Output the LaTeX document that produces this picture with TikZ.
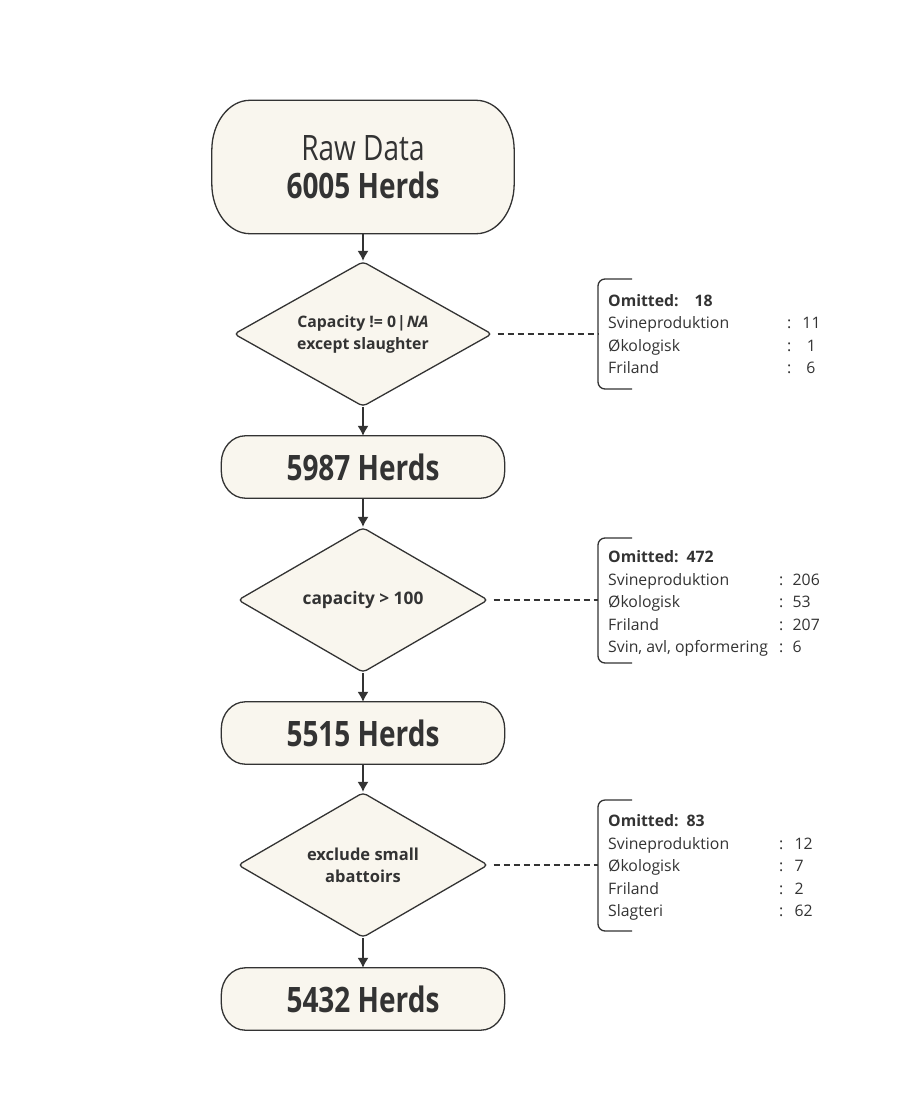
\documentclass[tikz,border=0pt]{standalone}
\usepackage{graphicx}
\usepackage{fontspec}
\setmainfont{Open Sans}
\usetikzlibrary{shapes.geometric,arrows.meta,backgrounds}
\definecolor{ink}{HTML}{333333}
\definecolor{cream}{HTML}{F9F6EE}
\newcommand{\sqz}[1]{\scalebox{0.8}[1]{#1}}
% stadium outline drawn behind a named node: #1 node, #2 x radius, #3 y radius
\newcommand{\stadium}[3]{%
  \draw[draw=ink, fill=cream, line width=1.3pt]
    ([xshift=#2]#1.north west) -- ([xshift=-#2]#1.north east)
    arc[start angle=90, end angle=0, x radius=#2, y radius=#3]
    -- ([yshift=#3]#1.south east)
    arc[start angle=0, end angle=-90, x radius=#2, y radius=#3]
    -- ([xshift=#2]#1.south west)
    arc[start angle=270, end angle=180, x radius=#2, y radius=#3]
    -- ([yshift=-#3]#1.north west)
    arc[start angle=180, end angle=90, x radius=#2, y radius=#3]
    -- cycle;}
\tikzset{
  termbox/.style={inner sep=0pt, text=ink, font=\fontsize{35}{38}\selectfont, align=center},
  herdbox/.style={termbox, minimum width=283pt, minimum height=62pt},
  decbox/.style={diamond, draw=ink, fill=cream, line width=1.3pt, rounded corners=4pt,
    inner sep=0pt, text=ink, align=center},
  flow/.style={draw=ink, line width=1.3pt, -{Latex[length=10pt,width=11pt]}},
  linkline/.style={draw=ink, line width=1.1pt, dash pattern=on 6pt off 4pt, shorten <=5pt},
  bracketline/.style={draw=ink, line width=1.3pt, rounded corners=7pt},
  note/.style={anchor=base west, inner sep=0pt, text=ink, font=\fontsize{15.8}{22.5}\selectfont},
  num/.style={note},
  numc/.style={anchor=base, inner sep=0pt, text=ink, font=\fontsize{15.8}{22.5}\selectfont}
}
\begin{document}
\begin{tikzpicture}[x=1pt,y=-1pt]
\useasboundingbox (0,0) rectangle (912,1095);

% main column
\node[termbox, minimum width=302pt, minimum height=133pt] (t0) at (363,167)
  {\sqz{Raw Data}\\\sqz{\bfseries 6005 Herds}};
\node[decbox, aspect=1.78, minimum width=258pt, minimum height=145pt,
  font=\fontsize{15.8}{22}\selectfont\bfseries] (d1) at (363,334)
  {Capacity != 0\kern1pt|\kern1pt\textit{NA}\\except slaughter};
\node[herdbox] (h1) at (363,467) {\sqz{\bfseries 5987 Herds}};
\node[decbox, aspect=1.72, minimum width=250pt, minimum height=145pt,
  font=\fontsize{17.3}{22}\selectfont\bfseries] (d2) at (363,600) {capacity > 100};
\node[herdbox] (h2) at (363,733) {\sqz{\bfseries 5515 Herds}};
\node[decbox, aspect=1.72, minimum width=250pt, minimum height=145pt,
  font=\fontsize{16.5}{22}\selectfont\bfseries] (d3) at (363,865) {exclude small\\abattoirs};
\node[herdbox] (h3) at (363,999) {\sqz{\bfseries 5432 Herds}};

\begin{pgfonlayer}{background}
  \fill[white] (0,0) rectangle (912,1095);
  \stadium{t0}{38pt}{50pt}
  \stadium{h1}{24pt}{27pt}
  \stadium{h2}{24pt}{27pt}
  \stadium{h3}{24pt}{27pt}
\end{pgfonlayer}

\draw[flow] (t0.south) -- (d1.north);
\draw[flow] (d1.south) -- (h1.north);
\draw[flow] (h1.south) -- (d2.north);
\draw[flow] (d2.south) -- (h2.north);
\draw[flow] (h2.south) -- (d3.north);
\draw[flow] (d3.south) -- (h3.north);

% brackets
\coordinate (b1) at (598,334);
\coordinate (b2) at (598,600);
\coordinate (b3) at (598,865);
\draw[bracketline] (632,279) -| (598,389) -- (632,389);
\draw[bracketline] (632,538) -| (598,663) -- (632,663);
\draw[bracketline] (632,800) -| (598,931) -- (632,931);

\draw[linkline] (d1.east) -- (b1);
\draw[linkline] (d2.east) -- (b2);
\draw[linkline] (d3.east) -- (b3);

% notes 1
\node[note] (n1h) at (608,306) {\textbf{Omitted:\hspace{16pt}18}};
\node[note] (n1a) at (608,328.5) {Svineproduktion};
\node[note] (n1b) at (608,351) {Økologisk};
\node[note] (n1c) at (608,373.5) {Friland};
\node[note] (c1a) at (787,328.5) {:};
\node[note] (c1b) at (787,351) {:};
\node[note] (c1c) at (787,373.5) {:};
\node[numc] (v1a) at (811.5,328.5) {11};
\node[numc] (v1b) at (811.5,351) {1};
\node[numc] (v1c) at (811,373.5) {6};

% notes 2
\node[note] (n2h) at (608,562.5) {\textbf{Omitted:\hspace{8pt}472}};
\node[note] (n2a) at (608,585) {Svineproduktion};
\node[note] (n2b) at (608,607.5) {Økologisk};
\node[note] (n2c) at (608,630) {Friland};
\node[note] (n2d) at (608,652.5) {Svin, avl, opformering};
\node[note] (c2a) at (779,585) {:};
\node[note] (c2b) at (779,607.5) {:};
\node[note] (c2c) at (779,630) {:};
\node[note] (c2d) at (779,652.5) {:};
\node[num] (v2a) at (792.5,585) {206};
\node[num] (v2b) at (792.5,607.5) {53};
\node[num] (v2c) at (792.5,630) {207};
\node[num] (v2d) at (792.5,652.5) {6};

% notes 3
\node[note] (n3h) at (608,826.5) {\textbf{Omitted:\hspace{8pt}83}};
\node[note] (n3a) at (608,849) {Svineproduktion};
\node[note] (n3b) at (608,871.5) {Økologisk};
\node[note] (n3c) at (608,894) {Friland};
\node[note] (n3d) at (608,916.5) {Slagteri};
\node[note] (c3a) at (779,849) {:};
\node[note] (c3b) at (779,871.5) {:};
\node[note] (c3c) at (779,894) {:};
\node[note] (c3d) at (779,916.5) {:};
\node[num] (v3a) at (794.5,849) {12};
\node[num] (v3b) at (794.5,871.5) {7};
\node[num] (v3c) at (794.5,894) {2};
\node[num] (v3d) at (794.5,916.5) {62};
\end{tikzpicture}
\end{document}
